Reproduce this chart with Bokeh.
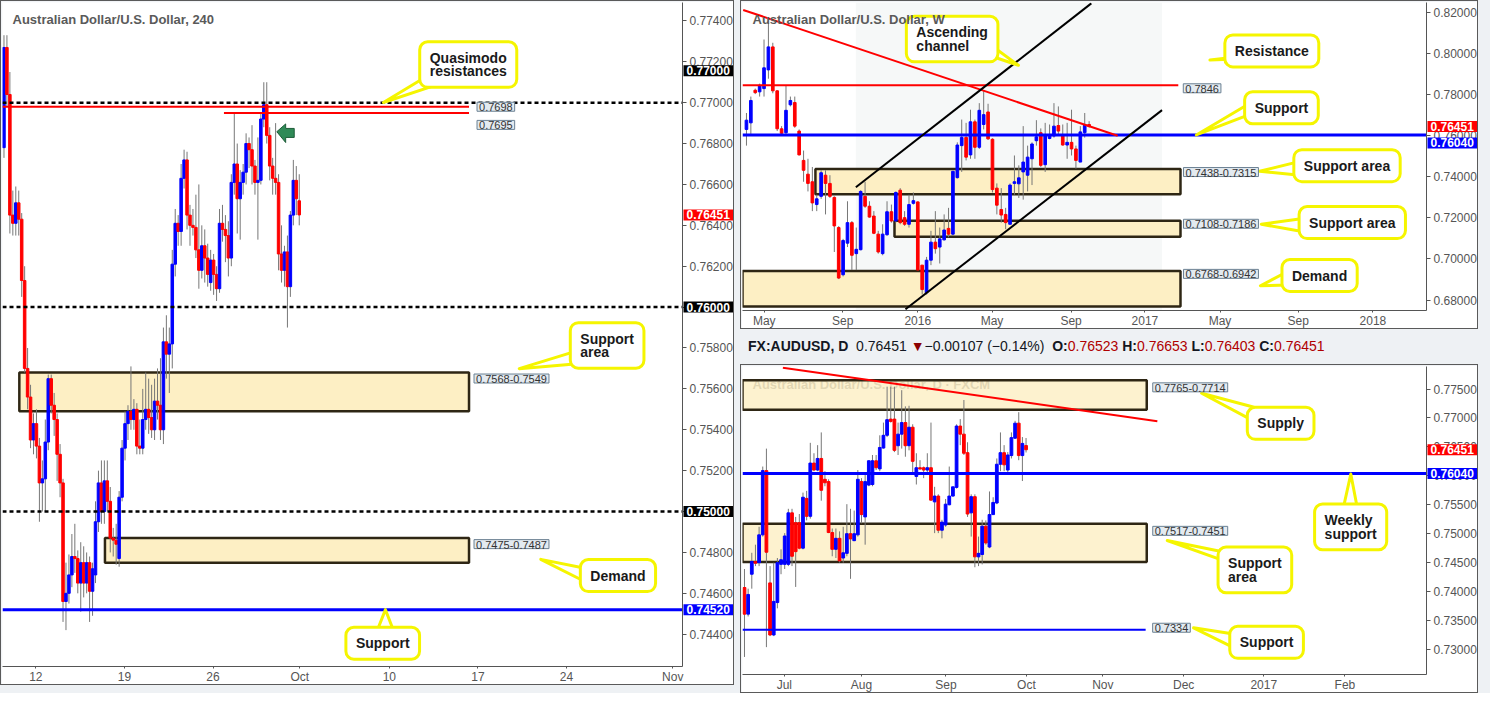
from bokeh.plotting import figure
from bokeh.models import (Label, FixedTicker, SingleIntervalTicker,
                          PrintfTickFormatter, Div, ColumnDataSource)
from bokeh.layouts import row, column
from bokeh.embed import file_html
from bokeh.resources import INLINE
from bokeh.core.properties import value

FONT = "Liberation Sans"
UP, DN = "#0000ff", "#ff0000"
ZONE_FILL, ZONE_LINE = "#fdefc4", "#2e2614"

# ---------------- H4 (240) candles ----------------
h4_open = [0.7678,0.7727,0.7704,0.7645,0.7641,0.7651,0.7643,0.7613,0.7570,0.7556,
 0.7535,0.7543,0.7532,0.7514,0.7516,0.7534,0.7565,0.7552,0.7545,0.7528,
 0.7514,0.7456,0.7460,0.7469,0.7478,0.7477,0.7465,0.7475,0.7465,0.7475,
 0.7461,0.7469,0.7495,0.7514,0.7500,0.7515,0.7505,0.7487,0.7486,0.7477,
 0.7507,0.7531,0.7543,0.7549,0.7545,0.7550,0.7532,0.7531,0.7545,0.7550,
 0.7546,0.7540,0.7554,0.7552,0.7540,0.7583,0.7577,0.7582,0.7621,0.7641,
 0.7637,0.7663,0.7672,0.7645,0.7640,0.7639,0.7628,0.7618,0.7630,0.7624,
 0.7612,0.7623,0.7616,0.7609,0.7641,0.7638,0.7635,0.7624,0.7661,0.7670,
 0.7653,0.7661,0.7666,0.7680,0.7677,0.7669,0.7661,0.7662,0.7692,0.7699,
 0.7684,0.7669,0.7663,0.7661,0.7626,0.7618,0.7627,0.7610,0.7645,0.7662,
 0.7652]
h4_high = [0.7733,0.7733,0.7715,0.7657,0.7659,0.7657,0.7646,0.7620,0.7580,0.7562,
 0.7548,0.7550,0.7536,0.7525,0.7545,0.7567,0.7567,0.7558,0.7548,0.7533,
 0.7516,0.7475,0.7479,0.7489,0.7494,0.7481,0.7485,0.7483,0.7480,0.7478,
 0.7475,0.7505,0.7520,0.7525,0.7525,0.7525,0.7512,0.7492,0.7494,0.7510,
 0.7535,0.7549,0.7552,0.7571,0.7555,0.7553,0.7545,0.7560,0.7568,0.7565,
 0.7562,0.7565,0.7570,0.7575,0.7590,0.7596,0.7590,0.7628,0.7648,0.7645,
 0.7670,0.7677,0.7676,0.7650,0.7648,0.7655,0.7660,0.7640,0.7638,0.7631,
 0.7628,0.7626,0.7620,0.7648,0.7650,0.7645,0.7642,0.7665,0.7695,0.7680,
 0.7667,0.7670,0.7685,0.7683,0.7689,0.7672,0.7683,0.7695,0.7710,0.7710,
 0.7688,0.7673,0.7690,0.7665,0.7640,0.7630,0.7635,0.7647,0.7672,0.7669,
 0.7665]
h4_low = [0.7673,0.7698,0.7636,0.7635,0.7635,0.7635,0.7605,0.7568,0.7550,0.7531,
 0.7528,0.7526,0.7495,0.7500,0.7500,0.7530,0.7548,0.7537,0.7515,0.7507,
 0.7446,0.7442,0.7455,0.7463,0.7470,0.7460,0.7451,0.7458,0.7460,0.7446,
 0.7449,0.7465,0.7490,0.7494,0.7494,0.7500,0.7480,0.7478,0.7474,0.7473,
 0.7505,0.7525,0.7535,0.7540,0.7540,0.7528,0.7528,0.7528,0.7540,0.7538,
 0.7536,0.7535,0.7545,0.7535,0.7533,0.7565,0.7558,0.7570,0.7615,0.7630,
 0.7630,0.7658,0.7638,0.7630,0.7635,0.7624,0.7609,0.7614,0.7612,0.7610,
 0.7608,0.7606,0.7603,0.7607,0.7632,0.7622,0.7615,0.7620,0.7655,0.7636,
 0.7633,0.7655,0.7660,0.7668,0.7660,0.7655,0.7633,0.7660,0.7688,0.7680,
 0.7662,0.7655,0.7655,0.7618,0.7612,0.7610,0.7590,0.7605,0.7640,0.7645,
 0.7640]
h4_close = [0.7727,0.7704,0.7645,0.7641,0.7651,0.7643,0.7613,0.7570,0.7556,0.7535,
 0.7543,0.7532,0.7514,0.7516,0.7534,0.7565,0.7552,0.7545,0.7528,0.7514,
 0.7456,0.7460,0.7469,0.7478,0.7477,0.7465,0.7475,0.7465,0.7475,0.7461,
 0.7472,0.7495,0.7514,0.7500,0.7515,0.7505,0.7487,0.7486,0.7484,0.7507,
 0.7531,0.7543,0.7549,0.7545,0.7550,0.7532,0.7531,0.7545,0.7550,0.7546,
 0.7540,0.7554,0.7552,0.7540,0.7583,0.7577,0.7582,0.7621,0.7641,0.7637,
 0.7663,0.7672,0.7645,0.7640,0.7639,0.7628,0.7618,0.7630,0.7624,0.7616,
 0.7623,0.7616,0.7609,0.7641,0.7638,0.7635,0.7624,0.7661,0.7670,0.7653,
 0.7661,0.7666,0.7680,0.7677,0.7669,0.7661,0.7662,0.7692,0.7699,0.7684,
 0.7669,0.7663,0.7661,0.7626,0.7618,0.7627,0.7610,0.7645,0.7662,0.7653,
 0.76451]
h4_xtick_labels = ["12", "19", "26", "Oct", "10", "17", "24", "Nov"]
h4_xtick_pos = [10.8, 40.8, 70.8, 100.2, 130.5, 160.5, 190.5, 226.5]
h4_round_levels = [0.7700, 0.7600, 0.7500]
h4_support = 0.7452
h4_qm_levels = [0.7698, 0.7695]
h4_qm_start = [-0.5, 74.5]
h4_zone_names = ["0.7568-0.7549", "0.7475-0.7487"]
h4_zone_left = [5.2, 34.2]
h4_zone_bottom = [0.7549, 0.7475]
h4_zone_top = [0.7568, 0.7487]
h4_draw_end = 157.5

# ---------------- Weekly candles ----------------
w_open = [0.7631,0.7663,0.7822,0.7814,0.7830,0.7921,0.8033,0.7819,0.7634,0.7615,
 0.7751,0.7762,0.7623,0.7480,0.7413,0.7376,0.7265,0.7305,0.7408,0.7368,
 0.7300,0.7153,0.6923,0.7077,0.7177,0.7026,0.7045,0.7305,0.7257,0.7209,
 0.7121,0.7026,0.7118,0.7230,0.7185,0.7335,0.7201,0.7169,0.7271,0.7278,
 0.6970,0.6835,0.6994,0.7082,0.7058,0.7093,0.7149,0.7121,0.7396,0.7552,
 0.7592,0.7507,0.7668,0.7544,0.7655,0.7716,0.7583,0.7345,0.7241,0.7217,
 0.7169,0.7368,0.7366,0.7424,0.7408,0.7488,0.7576,0.7615,0.7459,0.7587,
 0.7599,0.7650,0.7603,0.7555,0.7568,0.7536,0.7472,0.7615,0.7655]
w_high = [0.7711,0.7791,0.7830,0.7854,0.8069,0.8149,0.8053,0.7822,0.7647,0.7846,
 0.7791,0.7791,0.7631,0.7528,0.7488,0.7448,0.7313,0.7432,0.7432,0.7408,
 0.7305,0.7160,0.7098,0.7281,0.7185,0.7153,0.7335,0.7376,0.7281,0.7233,
 0.7137,0.7169,0.7281,0.7265,0.7329,0.7345,0.7233,0.7313,0.7324,0.7281,
 0.6970,0.7010,0.7137,0.7233,0.7153,0.7217,0.7249,0.7427,0.7568,0.7679,
 0.7663,0.7727,0.7679,0.7759,0.7822,0.7756,0.7588,0.7368,0.7345,0.7249,
 0.7368,0.7504,0.7456,0.7647,0.7552,0.7568,0.7676,0.7636,0.7663,0.7655,
 0.7759,0.7743,0.7655,0.7663,0.7727,0.7552,0.7647,0.7711,0.7671]
w_low = [0.7552,0.7599,0.7803,0.7791,0.7791,0.7878,0.7807,0.7623,0.7603,0.7607,
 0.7743,0.7639,0.7504,0.7376,0.7329,0.7233,0.7233,0.7293,0.7217,0.7297,
 0.7034,0.6902,0.6915,0.7058,0.6946,0.6946,0.7042,0.7249,0.7201,0.7121,
 0.7026,0.7018,0.7113,0.7177,0.7177,0.7169,0.7161,0.7153,0.7265,0.6946,
 0.6827,0.6827,0.6970,0.7026,0.6978,0.7090,0.7106,0.7113,0.7392,0.7424,
 0.7480,0.7488,0.7488,0.7536,0.7631,0.7580,0.7324,0.7217,0.7177,0.7145,
 0.7169,0.7313,0.7297,0.7289,0.7329,0.7360,0.7552,0.7448,0.7424,0.7583,
 0.7591,0.7599,0.7552,0.7488,0.7504,0.7440,0.7472,0.7591,0.7640]
w_close = [0.7676,0.7772,0.7810,0.7846,0.7931,0.8033,0.7819,0.7634,0.7612,0.7724,
 0.7772,0.7647,0.7507,0.7432,0.7368,0.7273,0.7293,0.7420,0.7368,0.7305,
 0.7161,0.6907,0.7090,0.7177,0.7018,0.7047,0.7329,0.7257,0.7204,0.7125,
 0.7034,0.7121,0.7230,0.7185,0.7324,0.7177,0.7169,0.7265,0.7284,0.6946,
 0.6851,0.6994,0.7082,0.7050,0.7098,0.7141,0.7121,0.7427,0.7555,0.7592,
 0.7496,0.7668,0.7544,0.7724,0.7703,0.7585,0.7338,0.7262,0.7214,0.7177,
 0.7360,0.7376,0.7395,0.7472,0.7496,0.7560,0.7595,0.7456,0.7603,0.7603,
 0.7647,0.7623,0.7555,0.7568,0.7536,0.7480,0.7619,0.7655,0.7645]
w_xtick_labels = ["May", "Sep", "2016", "May", "Sep", "2017", "May", "Sep", "2018"]
w_xtick_pos = [4.05, 21.9, 39.0, 55.9, 73.9, 90.7, 107.8, 125.6, 142.6]
w_resistance = 0.7846
w_res_end = 98.3
w_support = 0.7604
w_zone_names = ["0.7438-0.7315", "0.7108-0.7186", "0.6768-0.6942"]
w_zone_left = [15.7, 33.7, -0.9]
w_zone_bottom = [0.7315, 0.7108, 0.6768]
w_zone_top = [0.7438, 0.7186, 0.6942]
w_zone_end = 98.8
w_trend_x = [-0.74, 84.5]
w_trend_y = [0.8213, 0.7600]
w_chan_up_x = [24.9, 78.5]
w_chan_up_y = [0.7349, 0.8245]
w_chan_lo_x = [36.2, 94.6]
w_chan_lo_y = [0.6755, 0.7725]

# ---------------- Daily candles ----------------
d_open = [0.7407,0.7361,0.7430,0.7452,0.7450,0.7498,0.7609,0.7415,0.7325,0.7381,
 0.7447,0.7447,0.7447,0.7536,0.7519,0.7519,0.7475,0.7561,0.7530,0.7622,
 0.7610,0.7630,0.7594,0.7590,0.7502,0.7473,0.7492,0.7458,0.7466,0.7500,
 0.7488,0.7498,0.7590,0.7529,0.7584,0.7585,0.7626,0.7612,0.7648,0.7670,
 0.7698,0.7698,0.7652,0.7672,0.7692,0.7652,0.7684,0.7599,0.7614,0.7614,
 0.7610,0.7614,0.7555,0.7565,0.7506,0.7515,0.7550,0.7565,0.7580,0.7686,
 0.7672,0.7640,0.7536,0.7564,0.7460,0.7464,0.7513,0.7477,0.7533,0.7553,
 0.7620,0.7640,0.7610,0.7635,0.7665,0.7691,0.7635,0.76523]
d_high = [0.7439,0.7405,0.7467,0.7481,0.7512,0.7616,0.7647,0.7444,0.7450,0.7458,
 0.7473,0.7501,0.7543,0.7543,0.7529,0.7534,0.7571,0.7574,0.7657,0.7639,
 0.7653,0.7675,0.7608,0.7594,0.7509,0.7509,0.7504,0.7512,0.7551,0.7543,
 0.7540,0.7610,0.7596,0.7605,0.7627,0.7636,0.7636,0.7670,0.7692,0.7754,
 0.7754,0.7754,0.7692,0.7748,0.7720,0.7721,0.7689,0.7639,0.7627,0.7616,
 0.7639,0.7692,0.7581,0.7568,0.7524,0.7560,0.7616,0.7575,0.7689,0.7698,
 0.7731,0.7658,0.7568,0.7568,0.7495,0.7524,0.7523,0.7573,0.7563,0.7630,
 0.7675,0.7653,0.7641,0.7675,0.7695,0.7710,0.7667,0.76653]
d_low = [0.7287,0.7357,0.7405,0.7444,0.7444,0.7495,0.7304,0.7323,0.7323,0.7371,
 0.7430,0.7439,0.7444,0.7444,0.7408,0.7473,0.7473,0.7523,0.7526,0.7608,
 0.7608,0.7557,0.7582,0.7501,0.7461,0.7458,0.7450,0.7450,0.7461,0.7422,
 0.7487,0.7495,0.7518,0.7481,0.7582,0.7582,0.7610,0.7608,0.7647,0.7667,
 0.7692,0.7641,0.7636,0.7647,0.7633,0.7644,0.7602,0.7585,0.7610,0.7596,
 0.7602,0.7557,0.7501,0.7501,0.7492,0.7512,0.7549,0.7564,0.7578,0.7653,
 0.7636,0.7529,0.7495,0.7442,0.7444,0.7447,0.7481,0.7475,0.7533,0.7551,
 0.7608,0.7608,0.7605,0.7630,0.7664,0.7627,0.7591,0.76403]
d_close = [0.7361,0.7395,0.7452,0.7449,0.7498,0.7609,0.7468,0.7325,0.7383,0.7450,
 0.7455,0.7496,0.7536,0.7461,0.7469,0.7475,0.7563,0.7530,0.7622,0.7610,
 0.7630,0.7575,0.7588,0.7502,0.7473,0.7492,0.7453,0.7467,0.7500,0.7491,
 0.7500,0.7594,0.7533,0.7590,0.7626,0.7626,0.7614,0.7649,0.7670,0.7697,
 0.7694,0.7644,0.7672,0.7692,0.7652,0.7684,0.7625,0.7614,0.7612,0.7610,
 0.7614,0.7558,0.7565,0.7506,0.7520,0.7551,0.7565,0.7581,0.7686,0.7672,
 0.7639,0.7534,0.7564,0.7460,0.7466,0.7513,0.7484,0.7533,0.7554,0.7620,
 0.7640,0.7619,0.7636,0.7666,0.7691,0.7635,0.7656,0.76451]
d_xtick_labels = ["Jul", "Aug", "Sep", "Oct", "Nov", "Dec", "2017", "Feb"]
d_xtick_pos = [10.9, 32.0, 55.1, 77.1, 98.0, 120.1, 142.0, 164.2]
d_weekly_support = 0.7604
d_support = 0.7334
d_support_end = 109.7
d_zone_names = ["0.7765-0.7714", "0.7517-0.7451"]
d_zone_bottom = [0.7714, 0.7451]
d_zone_top = [0.7765, 0.7517]
d_zone_end = 110.0
d_trend_x = [10.5, 112.9]
d_trend_y = [0.77867, 0.76943]

last_close = 0.76451
hdr_change, hdr_pct = "\u22120.00107", "(\u22120.14%)"
hdr_o, hdr_h, hdr_l, hdr_c = "0.76523", "0.76653", "0.76403", "0.76451"

PANEL_BORDER = {"border": "1px solid #5a5a5a"}


def make_fig(w, h, xr, yr, xt, xl, yint):
    p = figure(width=w, height=h, x_range=xr, y_range=yr, y_axis_location="right",
               output_backend="svg", toolbar_location=None,
               min_border_left=1, min_border_top=1, min_border_right=0, min_border_bottom=0,
               background_fill_color="white", border_fill_color="white",
               styles=PANEL_BORDER)
    p.xgrid.visible = False
    p.ygrid.visible = False
    p.outline_line_color = None
    p.xaxis.ticker = FixedTicker(ticks=xt)
    p.xaxis.major_label_overrides = {t: l for t, l in zip(xt, xl)}
    p.yaxis.ticker = SingleIntervalTicker(interval=yint, num_minor_ticks=0)
    p.yaxis.formatter = PrintfTickFormatter(format="%.5f")
    for ax in (p.xaxis[0], p.yaxis[0]):
        ax.axis_line_color = "#555555"
        ax.major_tick_line_color = "#555555"
        ax.minor_tick_line_color = None
        ax.major_tick_out = 4
        ax.major_tick_in = 0
        ax.major_label_text_color = "#555555"
        ax.major_label_text_font = FONT
        ax.major_label_text_font_size = "12px"
        ax.major_label_standoff = 3
    p.xaxis.major_tick_out = 2
    p.xaxis.major_label_standoff = 1
    return p


def candles(p, o, h, l, c, width):
    n = len(o)
    src = ColumnDataSource(dict(
        x=list(range(n)), h=h, l=l,
        top=[max(a, b) for a, b in zip(o, c)],
        bot=[min(a, b) for a, b in zip(o, c)],
        col=[UP if b >= a else DN for a, b in zip(o, c)]))
    p.segment(x0="x", y0="h", x1="x", y1="l", source=src, line_color="#777777", line_width=1)
    p.vbar(x="x", width=width, top="top", bottom="bot", source=src,
           fill_color="col", line_color="col", line_width=1)


def zones(p, left, right, bottom, top, alpha=1.0):
    p.quad(left=left, right=right, bottom=bottom, top=top, fill_color=ZONE_FILL,
           fill_alpha=alpha, line_color=ZONE_LINE, line_width=2.5)


def title(p, text):
    p.add_layout(Label(x=p.x_range.start, y=p.y_range.end, x_offset=10, y_offset=-9,
                       anchor="top_left", text=text, text_font=FONT, text_font_style="bold",
                       text_font_size="13px", text_color="#5a5a5a"))


def callout(p, text, bx, by, tx, ty, b1x, b1y, b2x, b2y):
    p.patch(x=[b1x, tx, b2x], y=[b1y, ty, b2y], fill_color="white",
            line_color="#f5f500", line_width=3, line_join="round")
    p.add_layout(Label(x=bx, y=by, anchor="top_left", text=text, text_font=FONT,
                       text_font_style="bold", text_font_size="14px", text_color="#1a1a1a",
                       text_line_height=0.85, background_fill_color="white",
                       border_line_color="#f5f500", border_line_width=3, border_radius=8,
                       padding=dict(left=10, right=10, top=8, bottom=8)))


def vlabel(p, text, x, y, xoff, yoff):
    p.add_layout(Label(x=x, y=y, x_offset=xoff, y_offset=yoff, anchor="center_left",
                       text=text, text_font=FONT, text_font_size="11px", text_color="#333333",
                       background_fill_color="#e3eaf0", border_line_color="#6b8193",
                       border_line_width=1, padding=dict(left=2, right=2, top=1, bottom=0)))


def axlabel(p, text, y, color, yoff=0):
    # price tag on the right axis, drawn at overlay level so it is not clipped to the frame
    p.text(x=[p.x_range.end], y=[y], text=[text], x_offset=1, y_offset=yoff,
           anchor="center_left", text_font=value(FONT), text_font_style="bold",
           text_font_size="12px", text_color="white", background_fill_color=color,
           padding=dict(left=3, right=8, top=1, bottom=1), level="overlay")


# ================= LEFT: H4 =================
pL = make_fig(734, 685, (-0.5, 229.8), (0.74242, 0.77490), h4_xtick_pos, h4_xtick_labels, 0.002)
x0L, x1L = pL.x_range.start, pL.x_range.end
zones(pL, h4_zone_left, [h4_draw_end] * 2, h4_zone_bottom, h4_zone_top)
candles(pL, h4_open, h4_high, h4_low, h4_close, 0.85)
for lv in h4_round_levels:
    pL.line(x=[x0L, x1L], y=[lv, lv], line_color="black", line_width=2.5, line_dash="4 3")
pL.line(x=[x0L, x1L], y=[h4_support, h4_support], line_color=UP, line_width=3)
for lv, st in zip(h4_qm_levels, h4_qm_start):
    pL.line(x=[st, h4_draw_end], y=[lv, lv], line_color=DN, line_width=2)
# green arrow (annotation)
arrow_x = [92.4, 95.4, 95.4, 98.3, 98.3, 95.4, 95.4]
arrow_y = [0.76858, 0.76896, 0.76874, 0.76874, 0.76830, 0.76830, 0.76805]
pL.patch(x=arrow_x, y=arrow_y, fill_color="#2f8a57", line_color="#1d5c38", line_width=1)
vlabel(pL, "0.7698", h4_draw_end, h4_qm_levels[0], 8, 0)
vlabel(pL, "0.7695", h4_draw_end, h4_qm_levels[1], 8, -12)
for nm, tp in zip(h4_zone_names, h4_zone_top):
    vlabel(pL, nm, h4_draw_end, tp, 5, -6)
callout(pL, "Quasimodo\nresistances", 140.8, 0.77298, 128.5, 0.77001, 142.8, 0.77126, 147.5, 0.77092)
callout(pL, "Support\narea", 191.8, 0.75924, 174.5, 0.75699, 193.8, 0.75785, 197.2, 0.75727)
callout(pL, "Demand", 195.2, 0.74765, 181.8, 0.74766, 197.2, 0.74721, 197.2, 0.74654)
callout(pL, "Support", 115.8, 0.74434, 129.2, 0.74520, 125.8, 0.74396, 132.5, 0.74396)
title(pL, "Australian Dollar/U.S. Dollar, 240")
axlabel(pL, "0.77000", 0.7700, "black", -32)
axlabel(pL, "0.76451", last_close, DN)
axlabel(pL, "0.76000", 0.7600, "black")
axlabel(pL, "0.75000", 0.7500, "black")
axlabel(pL, "0.74520", h4_support, UP)

# ================= TOP RIGHT: Weekly =================
pW = make_fig(738, 329, (-0.9, 154.8), (0.67490, 0.82492), w_xtick_pos, w_xtick_labels, 0.02)
x0W, x1W = pW.x_range.start, pW.x_range.end
pW.quad(left=[w_chan_up_x[0]], right=[w_chan_lo_x[1]], bottom=[pW.y_range.start], top=[pW.y_range.end],
        fill_color="#f6f8f8", line_color=None)
zones(pW, w_zone_left, [w_zone_end] * 3, w_zone_bottom, w_zone_top)
candles(pW, w_open, w_high, w_low, w_close, 0.6)
pW.line(x=[x0W, w_res_end], y=[w_resistance, w_resistance], line_color=DN, line_width=2)
pW.line(x=[x0W, x1W], y=[w_support, w_support], line_color=UP, line_width=3)
pW.line(x=w_trend_x, y=w_trend_y, line_color=DN, line_width=2)
pW.line(x=w_chan_up_x, y=w_chan_up_y, line_color="black", line_width=2)
pW.line(x=w_chan_lo_x, y=w_chan_lo_y, line_color="black", line_width=2)
vlabel(pW, "0.7846", w_res_end, w_resistance, 5, -3)
for nm, tp in zip(w_zone_names, w_zone_top):
    vlabel(pW, nm, w_zone_end, tp, 3, -3)
callout(pW, "Ascending\nchannel", 36.4, 0.81823, 61.9, 0.79434, 54.9, 0.80533, 55.3, 0.79912)
callout(pW, "Resistance", 108.9, 0.80915, 105.5, 0.79686, 110.5, 0.79816, 111.6, 0.79743)
callout(pW, "Support", 113.4, 0.78144, 102.4, 0.76042, 114.3, 0.77545, 116.1, 0.77166)
callout(pW, "Support area", 124.6, 0.75325, 116.8, 0.74274, 126.0, 0.74752, 126.0, 0.74083)
callout(pW, "Support area", 125.8, 0.72554, 117.2, 0.71694, 127.1, 0.71981, 127.1, 0.71312)
callout(pW, "Demand", 121.9, 0.69974, 117.0, 0.68697, 123.3, 0.69400, 123.3, 0.68731)
title(pW, "Australian Dollar/U.S. Dollar, W")
axlabel(pW, "0.76451", last_close, DN)
axlabel(pW, "0.76040", w_support, UP, 8)

# ================= header =================
hdr = ('<div style="font-family:\'Liberation Sans\',Arial,sans-serif;font-size:14px;color:#131722;'
       'line-height:25px;padding-left:3px;white-space:nowrap;">'
       '<b>FX:AUDUSD, D</b>&nbsp; ' + hdr_c + ' <span style="color:#8b0000">&#9660;</span>'
       + hdr_change + ' ' + hdr_pct + ' &nbsp;'
       '<b>O:</b><span style="color:#b00000">' + hdr_o + '</span> '
       '<b>H:</b><span style="color:#b00000">' + hdr_h + '</span> '
       '<b>L:</b><span style="color:#b00000">' + hdr_l + '</span> '
       '<b>C:</b><span style="color:#b00000">' + hdr_c + '</span></div>')
header = Div(text=hdr, width=740, height=25)

# ================= BOTTOM RIGHT: Daily =================
pD = make_fig(738, 329, (-0.54, 186.5), (0.72567, 0.77889), d_xtick_pos, d_xtick_labels, 0.005)
x0D, x1D = pD.x_range.start, pD.x_range.end
pD.text(x=[x0D], y=[pD.y_range.end], text=["Australian Dollar/U.S. Dollar, D \u00b7 FXCM"],
        x_offset=10, y_offset=18, text_baseline="middle", text_font=value(FONT),
        text_font_style="bold", text_font_size="13px", text_color="#666666")
zones(pD, [x0D] * 2, [d_zone_end] * 2, d_zone_bottom, d_zone_top, alpha=0.82)
candles(pD, d_open, d_high, d_low, d_close, 0.75)
pD.line(x=d_trend_x, y=d_trend_y, line_color=DN, line_width=2)
pD.line(x=[x0D, x1D], y=[d_weekly_support, d_weekly_support], line_color=UP, line_width=3)
pD.line(x=[x0D, d_support_end], y=[d_support, d_support], line_color=UP, line_width=2)
for nm, tp in zip(d_zone_names, d_zone_top):
    vlabel(pD, nm, d_zone_end, tp, 6, -7)
vlabel(pD, "0.7334", d_support_end, d_support, 7, 2)
callout(pD, "Supply", 137.5, 0.77184, 125.0, 0.77427, 138.4, 0.76976, 142.7, 0.77128)
callout(pD, "Weekly\nsupport", 155.9, 0.75512, 165.8, 0.76030, 163.5, 0.75371, 167.8, 0.75371)
callout(pD, "Support\narea", 129.5, 0.74769, 115.6, 0.74882, 131.4, 0.74679, 131.4, 0.74527)
callout(pD, "Support", 132.7, 0.73400, 122.8, 0.73373, 134.6, 0.73260, 134.6, 0.73007)
axlabel(pD, "0.76451", last_close, DN)
axlabel(pD, "0.76040", d_weekly_support, UP)

right = column(pW, header, pD, spacing=0)
layout = row(pL, right, spacing=6, styles={"background-color": "#eef1f4"})

open("out.html", "w").write(file_html(layout, INLINE))
